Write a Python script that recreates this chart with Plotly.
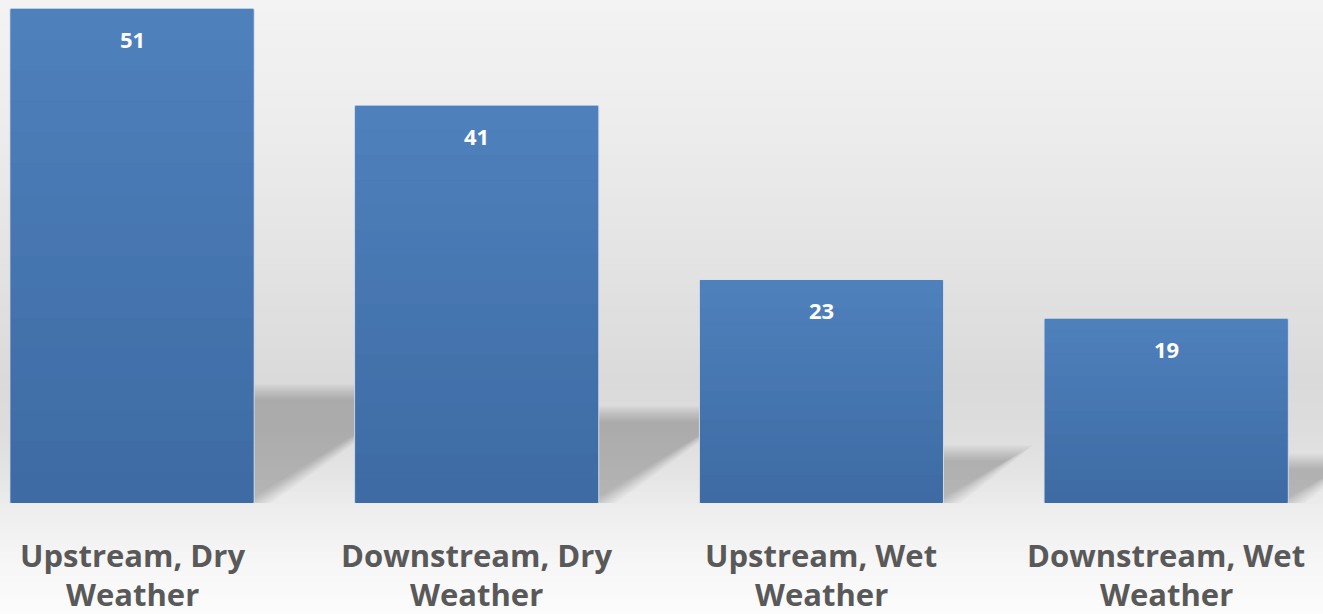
import plotly.graph_objects as go

categories = ["Upstream, Dry<br>Weather", "Downstream, Dry<br>Weather",
              "Upstream, Wet<br>Weather", "Downstream, Wet<br>Weather"]
values = [51, 41, 23, 19]

W, H = 1323, 614
MB = 111
BAR_W = 0.708
X_RANGE = [-0.383, 3.455]
Y_RANGE = [0, 51.93]
FONT = "Open Sans, Noto Sans, sans-serif"

fig = go.Figure()

xs = list(range(len(values)))
fig.add_trace(go.Bar(
    x=xs, y=values, width=BAR_W,
    marker=dict(color="#4676b0", line=dict(color="#cfdbea", width=1)),
    hoverinfo="skip", showlegend=False,
))

shapes = []

# background vertical gradient (paper coordinates), style only
stops = [(0, 243), (120, 237), (250, 228), (380, 218), (430, 221),
         (480, 230), (503, 236), (560, 246), (614, 252)]

def gray_at(py):
    for (y0, g0), (y1, g1) in zip(stops[:-1], stops[1:]):
        if y0 <= py <= y1:
            t = (py - y0) / (y1 - y0)
            return g0 + (g1 - g0) * t
    return stops[-1][1]

plot_h = H - MB
step = 6
for py in range(0, H, step):
    g = int(round(gray_at(py + step / 2)))
    top = (H - MB - py) / plot_h
    bot = (H - MB - py - step - 1) / plot_h
    shapes.append(dict(type="rect", xref="paper", yref="paper", x0=-0.01, x1=1.01,
                       y0=bot, y1=top, fillcolor=f"rgb({g},{g},{g})",
                       line=dict(width=0), layer="below"))

# perspective shadows, derived from values (soft edges by layering)
px_x = (X_RANGE[1] - X_RANGE[0]) / W          # data-x per pixel
px_y = (Y_RANGE[1] - Y_RANGE[0]) / (H - MB)   # data-y per pixel
N = 14
for i, v in enumerate(values):
    xr = i + BAR_W / 2
    T = 0.225 * v
    Wd = 0.00967 * v
    e0 = 4 * px_x
    for j in range(N):
        f = (j - (N - 1) / 2) / ((N - 1) / 2)   # -1 .. 1
        Tj = T - f * 8 * px_y
        s = f * 14 * px_x
        path = (f"M {xr},0 L {xr},{Tj} L {xr + Wd - s},{Tj} "
                f"L {xr + e0 - s},0 Z")
        shapes.append(dict(type="path", xref="x", yref="y", path=path,
                           fillcolor="rgba(0,0,0,0.0145)", line=dict(width=0),
                           layer="below"))

# bar gradient overlay (lighter at top, darker at bottom), derived from values
n = 16
for i, v in enumerate(values):
    x0 = i - BAR_W / 2
    x1 = i + BAR_W / 2
    for k in range(n):
        t = (k + 0.5) / n  # 0 bottom, 1 top
        r = int(round(61 + (79 - 61) * t))
        g = int(round(106 + (129 - 106) * t))
        b = int(round(162 + (189 - 162) * t))
        shapes.append(dict(type="rect", xref="x", yref="y",
                           x0=x0 + 0.002, x1=x1 - 0.002,
                           y0=v * k / n, y1=v * (k + 1) / n + 0.02,
                           fillcolor=f"rgb({r},{g},{b})", line=dict(width=0),
                           layer="above"))

annotations = []
for i, v in enumerate(values):
    annotations.append(dict(x=i, y=v, xref="x", yref="y", text=f"<b>{v}</b>",
                            showarrow=False, yanchor="middle", yshift=-30,
                            font=dict(family=FONT, size=22, color="white")))

for i, c in enumerate(categories):
    lines = c.split("<br>")
    for li, line in enumerate(lines):
        annotations.append(dict(x=i, y=0, xref="x", yref="y", text=f"<b>{line}</b>",
                                showarrow=False, yanchor="middle",
                                yshift=-(52 + 39 * li),
                                font=dict(family=FONT, size=31, color="#595959")))

fig.update_layout(
    width=W, height=H,
    margin=dict(l=0, r=0, t=0, b=MB, pad=0),
    paper_bgcolor="#f2f2f2",
    plot_bgcolor="rgba(0,0,0,0)",
    shapes=shapes,
    annotations=annotations,
    xaxis=dict(range=X_RANGE, showgrid=False, zeroline=False, showticklabels=False,
               ticks="", showline=False, fixedrange=True),
    yaxis=dict(range=Y_RANGE, showgrid=False, zeroline=False, showticklabels=False,
               ticks="", showline=False, fixedrange=True),
    bargap=0.29,
)

fig.write_html("out.html", config={"displayModeBar": False},
               post_script="document.body.style.margin='0';document.body.style.overflow='hidden';")
